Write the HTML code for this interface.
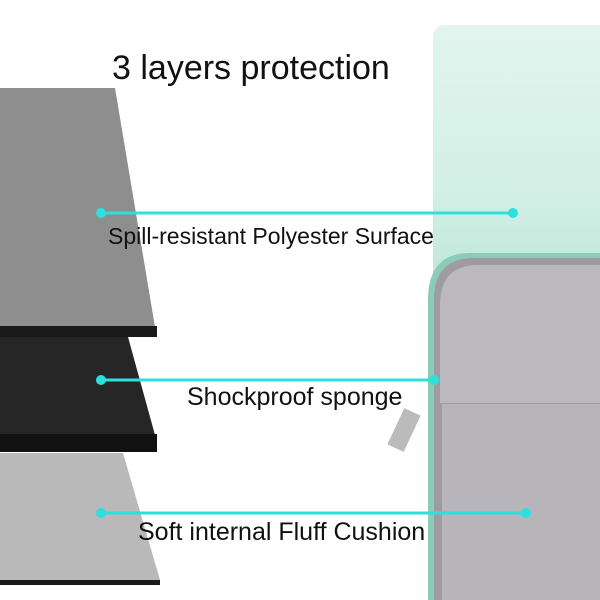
<!DOCTYPE html>
<html><head><style>
body{margin:0;width:600px;height:600px;background:#fff;overflow:hidden;position:relative;font-family:"Liberation Sans",sans-serif}
.t{position:absolute;color:#111;white-space:nowrap}
</style></head><body>
<svg width="600" height="600" style="position:absolute;left:0;top:0">
<defs>
<linearGradient id="bag" x1="0" y1="0" x2="0" y2="1">
<stop offset="0" stop-color="#e2f5ef"/><stop offset="0.3" stop-color="#d2efe5"/><stop offset="0.55" stop-color="#aee3d0"/><stop offset="1" stop-color="#96d8c1"/></linearGradient>
</defs>
<polygon points="0,88 115,88 155,327 0,327" fill="#8e8e8e"/>
<rect x="0" y="326" width="157" height="11" fill="#1a1a1a"/>
<polygon points="0,337 128,337 155,435 0,435" fill="#262626"/>
<rect x="0" y="434" width="157" height="18" fill="#111"/>
<polygon points="0,453 123,453 160,580 0,580" fill="#b9b9b9"/>
<rect x="0" y="580" width="160" height="5" fill="#1a1a1a"/>
<path d="M445,25 H600 V600 H433 V40 Q433,25 445,25 Z" fill="url(#bag)"/>
<path d="M470,253 H600 V600 H428 V300 Q428,253 470,253 Z" fill="#8cccb6"/>
<path d="M474,258 H600 V600 H434 V300 Q434,258 474,258 Z" fill="#9e9ca0"/>
<path d="M478,265 H600 V403 H440 V305 Q440,265 478,265 Z" fill="#bbb9bd"/>
<rect x="442" y="404" width="158" height="196" fill="#b7b5b9"/>
<rect x="395" y="410" width="18" height="40" fill="#bbb" transform="rotate(25 404 430)"/>
<g stroke="#2ee0dc" stroke-width="3"><line x1="101" y1="213" x2="513" y2="213"/><line x1="101" y1="380" x2="434" y2="380"/><line x1="101" y1="513" x2="526" y2="513"/></g>
<g fill="#2ee0dc"><circle cx="101" cy="213" r="5"/><circle cx="513" cy="213" r="5"/><circle cx="101" cy="380" r="5"/><circle cx="434" cy="380" r="5"/><circle cx="101" cy="513" r="5"/><circle cx="526" cy="513" r="5"/></g>
</svg>
<div class="t" style="left:112px;top:49px;font-size:34px">3 layers protection</div>
<div class="t" style="left:108px;top:223px;font-size:23px">Spill-resistant Polyester Surface</div>
<div class="t" style="left:187px;top:383px;font-size:25px">Shockproof sponge</div>
<div class="t" style="left:138px;top:518px;font-size:25px">Soft internal Fluff Cushion</div>
</body></html>
